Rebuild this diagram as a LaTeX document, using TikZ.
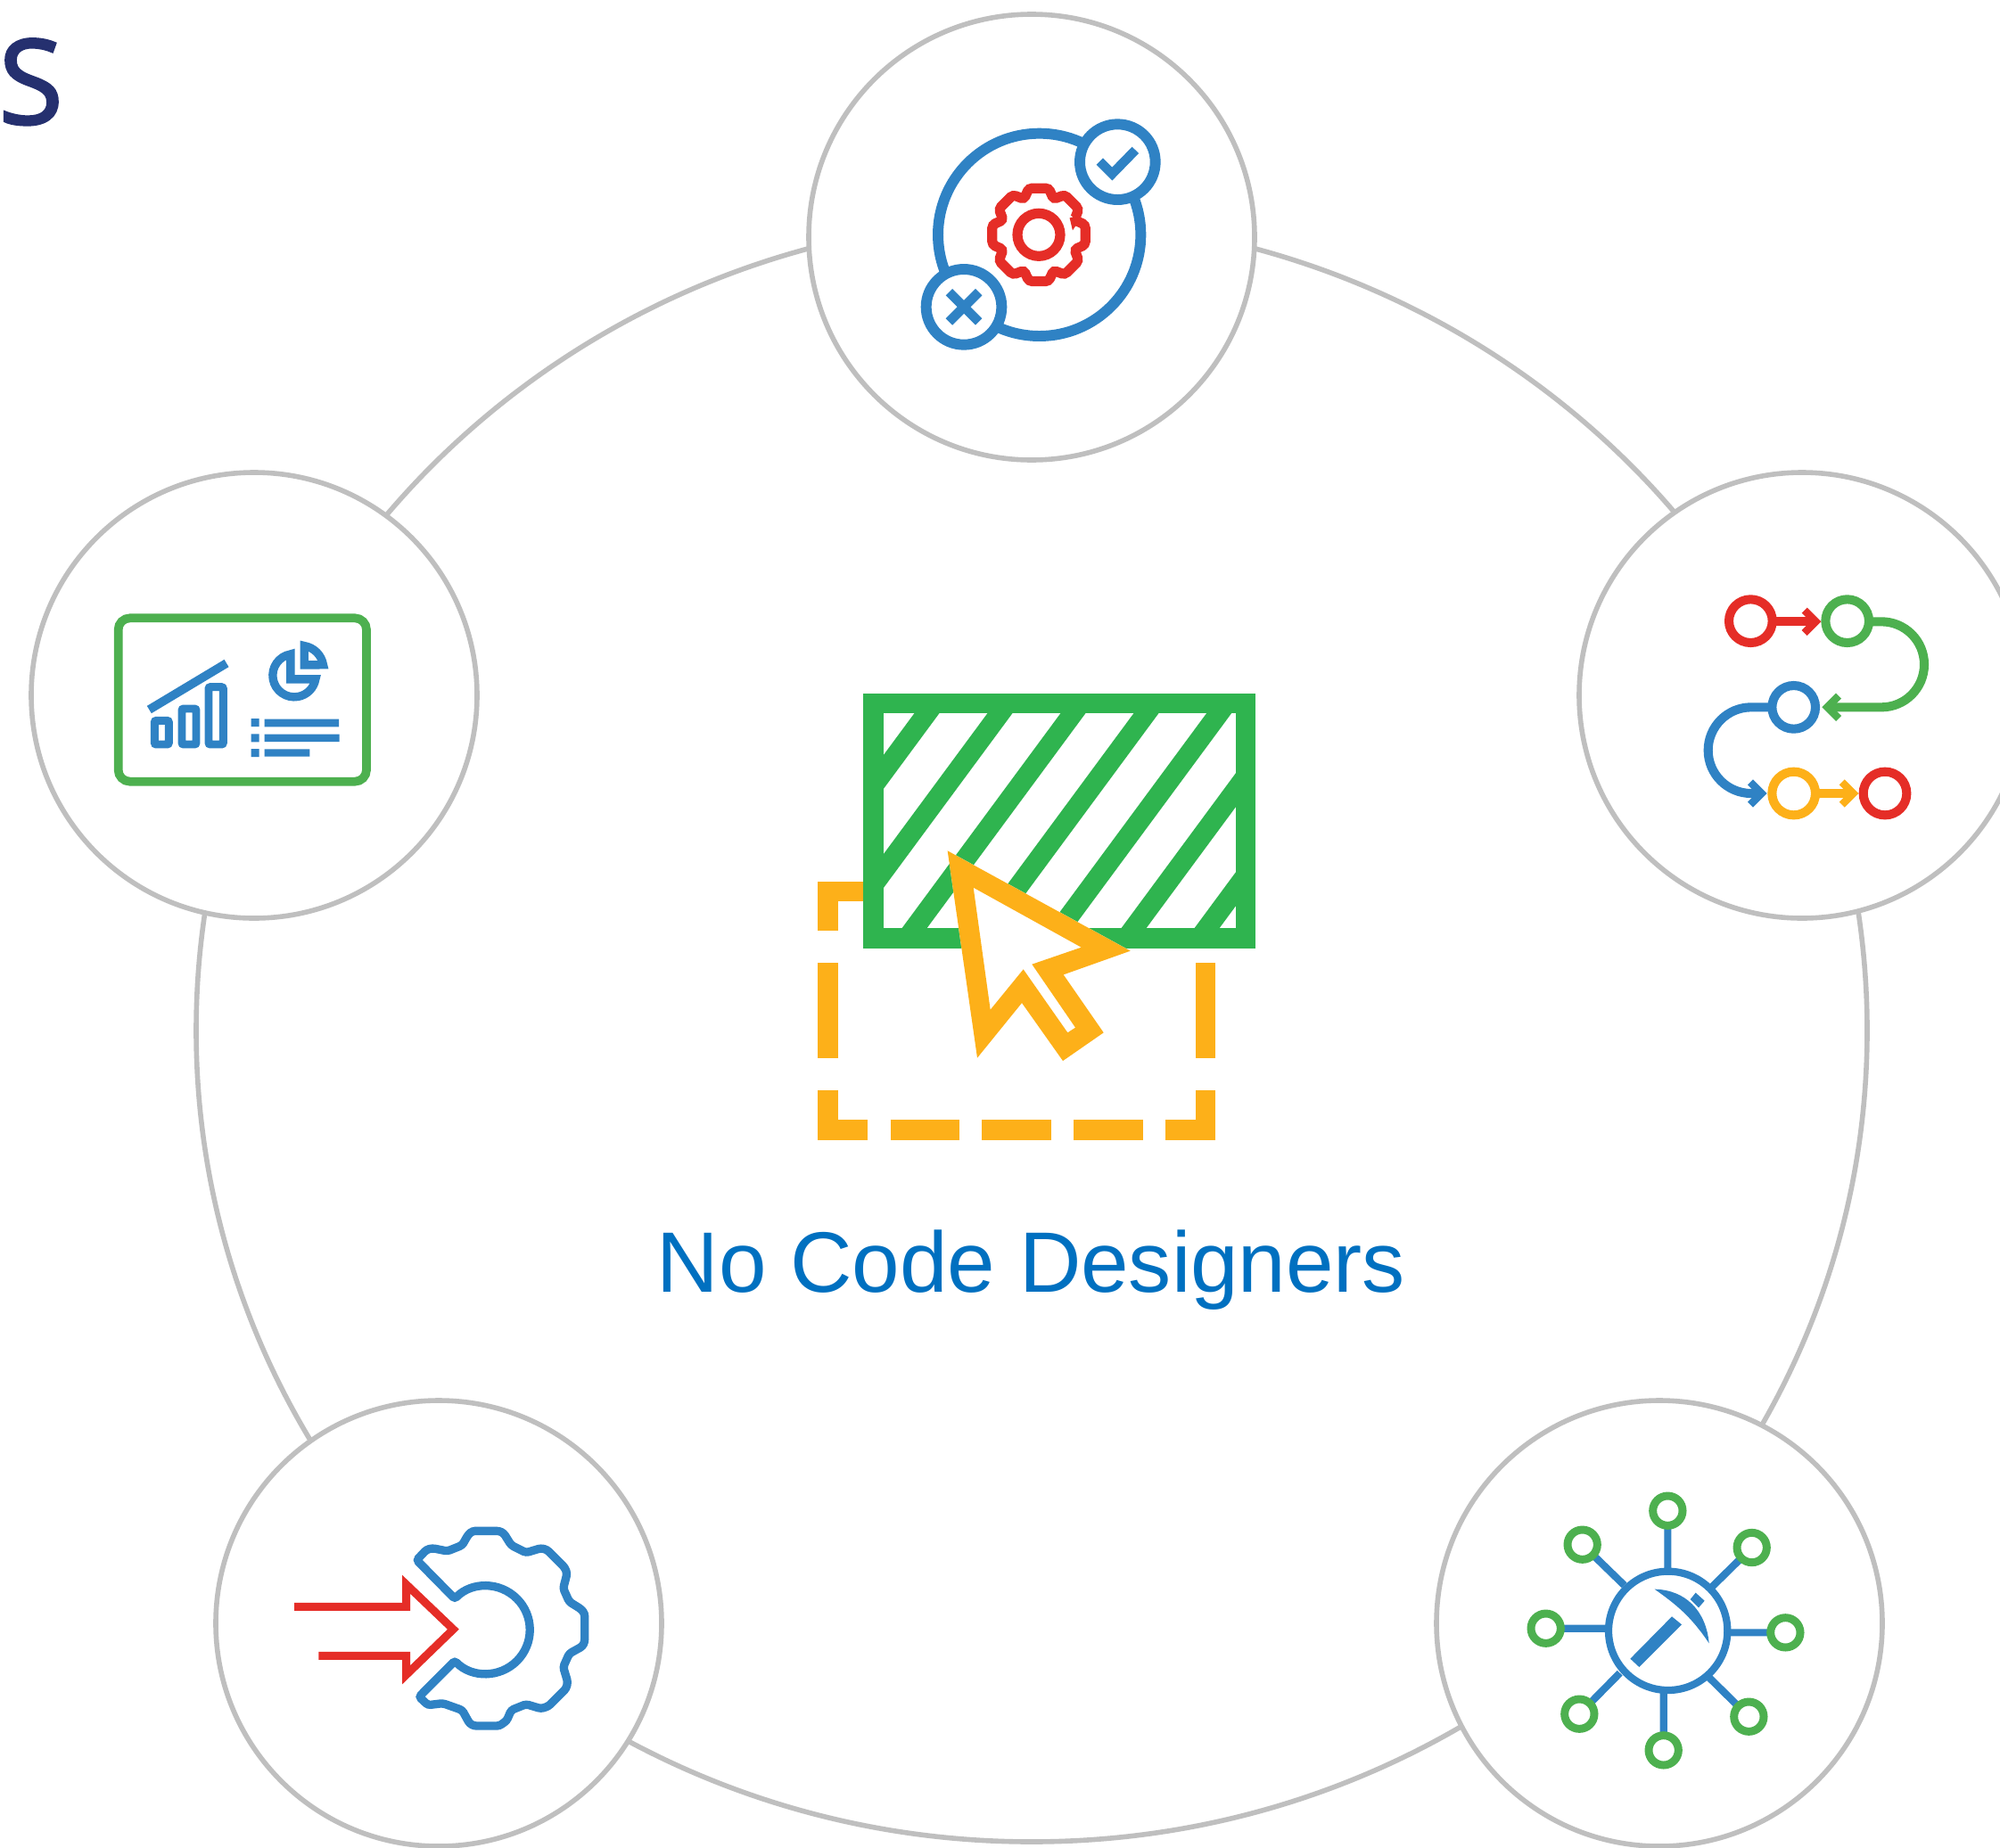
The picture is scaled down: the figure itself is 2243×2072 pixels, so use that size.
\documentclass[tikz,border=0pt]{standalone}
\usepackage{fontspec}
\setmainfont{Liberation Sans}
\newfontfamily\initfont[RawFeature={embolden=2}]{Open Sans}
\definecolor{ringgray}{HTML}{BFBFBF}
\definecolor{iblue}{HTML}{2F82C4}
\definecolor{ired}{HTML}{E52D27}
\definecolor{igreen}{HTML}{4DB04F}
\definecolor{iyellow}{HTML}{FDB019}
\definecolor{dgreen}{HTML}{2FB44F}
\definecolor{titleblue}{HTML}{0070C0}
\definecolor{navy}{HTML}{25306F}
\tikzset{
  zoomed/.style 2 args={shift={(#1,#2)},x=.1666667pt,y=-.1666667pt},
  zw/.style={line width=#1*.1666667pt},
  ringline/.style={draw=ringgray,line width=2.8pt},
  bubble/.style={ringline,fill=white},
  bl/.style={draw=iblue,zw=#1*1.12,line join=miter},
  rd/.style={draw=ired,zw=#1*1.12,line join=miter},
  gr/.style={draw=igreen,zw=#1*1.12,line join=miter},
  yl/.style={draw=iyellow,zw=#1*1.12,line join=miter},
  yc/.style={draw=iyellow,zw=67,line join=miter},
}
\newcommand{\chevhead}[4]{%
  \fill[#1] (#2,#3) -- ++({-47*#4},-47) -- ++({-18*#4},18) -- ++({29*#4},29)
    -- ++({-29*#4},29) -- ++({18*#4},18) -- cycle;}
\begin{document}
\begin{tikzpicture}[x=.5pt,y=-.5pt]
\useasboundingbox (0,0) rectangle (2243,2072);
\clip (0,0) rectangle (2243,2072);
\fill[white] (0,0) rectangle (2243,2072);

% ring and bubbles
\draw[ringline] (1157,1156) ellipse [x radius=937,y radius=910];
\foreach \cx/\cy in {1157/266,285/780,2021/780,492/1821,1861/1821}
  \draw[bubble] (\cx,\cy) circle [radius=250];

% initial letter
\node[anchor=base west,inner sep=0pt,text=navy,font=\initfont\fontsize{66}{66}\selectfont] (initial) at (-2,139) {S};

% title
\node[anchor=base,inner sep=0pt,text=titleblue,font=\fontsize{48.1}{49}\selectfont] (title) at (1156.5,1449) {No Code Designers};

% ---- top icon
\begin{scope}[zoomed={1000}{100}]
  \draw[bl=32] (497,490) circle [radius=341];
  \draw[bl=32,fill=white] (760,245) circle [radius=127];
  \draw[bl=32,fill=white] (243,733) circle [radius=127];
  \draw[bl=28] (700,243) -- (742,285) -- (820,205);
  \draw[bl=28] (193,683) -- (293,783) (293,683) -- (193,783);
  \draw[rd=30] (495,490) circle [radius=72];
  \begin{scope}[shift={(495,490)}]
    \draw[rd=30,rounded corners=1.8pt] (-22.5:130)
      \foreach \a in {0,45,...,315}{ -- ({\a-12}:160) -- ({\a+12}:160) -- ({\a+22.5}:130)} -- cycle;
  \end{scope}
\end{scope}

% ---- right icon
\begin{scope}[zoomed={1880}{640}]
  \draw[rd=27] (335,172) -- (465,172);
  \chevhead{ired}{487}{172}{1}
  \draw[gr=27] (650,172) -- (690,172) arc [start angle=-90,end angle=90,radius=144] -- (510,460);
  \chevhead{igreen}{490}{460}{-1}
  \draw[bl=27] (320,460) -- (252,460) arc [start angle=-90,end angle=-270,radius=145] -- (285,750);
  \chevhead{iblue}{305}{750}{1}
  \draw[yl=27] (470,750) -- (590,750);
  \chevhead{iyellow}{613}{750}{1}
  \draw[rd=27] (250,170) circle [radius=73];
  \draw[gr=27] (575,170) circle [radius=73];
  \draw[bl=27] (395,460) circle [radius=73];
  \draw[yl=27] (395,750) circle [radius=73];
  \draw[rd=27] (702,750) circle [radius=73];
\end{scope}

% ---- left icon
\begin{scope}[zoomed={110}{670}]
  \draw[gr=26,rounded corners=6.5pt] (68,70) rectangle (903,620);
  \draw[bl=26] (172,378) -- (432,222);
  \draw[bl=24,rounded corners=1pt] (190,415) rectangle (238,495);
  \draw[bl=24,rounded corners=1pt] (282,375) rectangle (330,495);
  \draw[bl=24,rounded corners=1pt] (372,302) rectangle (421,495);
  \begin{scope}[shift={(540,120)}]
    \draw[bl=25] (107.5,155.5) -- (107.5,71.6) arc [start angle=-100,end angle=-350,radius=72.5] -- cycle;
    \draw[bl=25] (153.5,107.5) -- (153.5,43.5) arc [start angle=-80.7,end angle=-9.3,radius=77.5] -- cycle;
  \end{scope}
  \fill[iblue] (515,408) rectangle (542,435) (515,460) rectangle (542,487) (515,510) rectangle (542,537);
  \fill[iblue] (560,410) rectangle (810,436) (560,461) rectangle (812,486) (560,511) rectangle (712,536);
\end{scope}

% ---- lower left icon
\begin{scope}[zoomed={310}{1690}]
  \draw[bl=25,rounded corners=1.5pt] (600,310) arc [start angle=-135,end angle=135,radius=148]
    -- (480,640) -- (510,668) -- (560,662) -- (625,685) -- (650,730) -- (665,738) -- (750,738)
    -- (775,720) -- (790,685) -- (840,665) -- (890,680) -- (915,672) -- (975,612) -- (980,590)
    -- (965,540) -- (985,495) -- (1030,470) -- (1037,455) -- (1037,360) -- (1025,345) -- (985,320)
    -- (965,275) -- (978,225) -- (970,205) -- (910,145) -- (890,140) -- (840,155) -- (790,130)
    -- (765,90) -- (750,82) -- (660,82) -- (645,95) -- (625,130) -- (575,150) -- (525,140)
    -- (505,145) -- (472,180) -- cycle;
  \draw[rd=24] (60,337) -- (437,337) -- (437,262) -- (595,413) -- (437,566) -- (437,502) -- (142,502);
\end{scope}

% ---- lower right icon
\begin{scope}[zoomed={1690}{1650}]
  \draw[bl=22] (541,134) -- (541,330) (824,258) -- (690,390) (937,544) -- (750,544)
    (814,827) -- (680,695) (527,940) -- (527,745) (244,818) -- (380,680)
    (131,530) -- (335,530) (254,248) -- (395,385);
  \draw[bl=22,fill=white] (542,538) circle [radius=200];
  \foreach \px/\py in {541/134,824/258,937/544,814/827,527/940,244/818,131/530,254/248}
    \draw[gr=24,fill=white] (\px,\py) circle [radius=50];
  \fill[iblue] (415,632) -- (555,490) -- (588,517) -- (445,660) -- cycle;
  \fill[iblue] (497,398) .. controls (600,400) and (670,470) .. (680,580)
    .. controls (620,490) and (570,450) .. (497,398) -- cycle;
  \fill[iblue] (635,410) -- (665,437) -- (645,460) -- (617,432) -- cycle;
\end{scope}

% ---- centre icon
\begin{scope}[zoomed={900}{760}]
  \draw[yc] (85,853) -- (85,720) -- (240,720);
  \draw[yc] (85,960) -- (85,1282);
  \draw[yc] (85,1388) -- (85,1522) -- (220,1522);
  \draw[yc] (296,1522) -- (527,1522) (604,1522) -- (836,1522) (913,1522) -- (1145,1522);
  \draw[yc] (1222,1522) -- (1356,1522) -- (1356,1388);
  \draw[yc] (1356,960) -- (1356,1282);
  \begin{scope}
    \clip (238,87) rectangle (1490,877);
    \foreach \xc in {420,666,912,1158,1403,1650,1896}
      \draw[draw=dgreen,zw=67.6] ({\xc+.738*118},0) -- ({\xc-.738*(900-118)},900);
  \end{scope}
  \draw[draw=dgreen,zw=67] (238,87) rectangle (1490,877);
  \fill[white] (488,583) -- (1103,920) -- (878,1000) -- (1013,1195) -- (876,1290) -- (738,1095) -- (588,1280) -- cycle;
  \fill[iyellow,even odd rule] (488,583) -- (1103,920) -- (878,1000) -- (1013,1195) -- (876,1290) -- (738,1095) -- (588,1280) -- cycle
    (575,707) -- (938,908) -- (772,965) -- (918,1178) -- (892,1195) -- (743,982) -- (632,1118) -- cycle;
\end{scope}
\end{tikzpicture}
\end{document}
